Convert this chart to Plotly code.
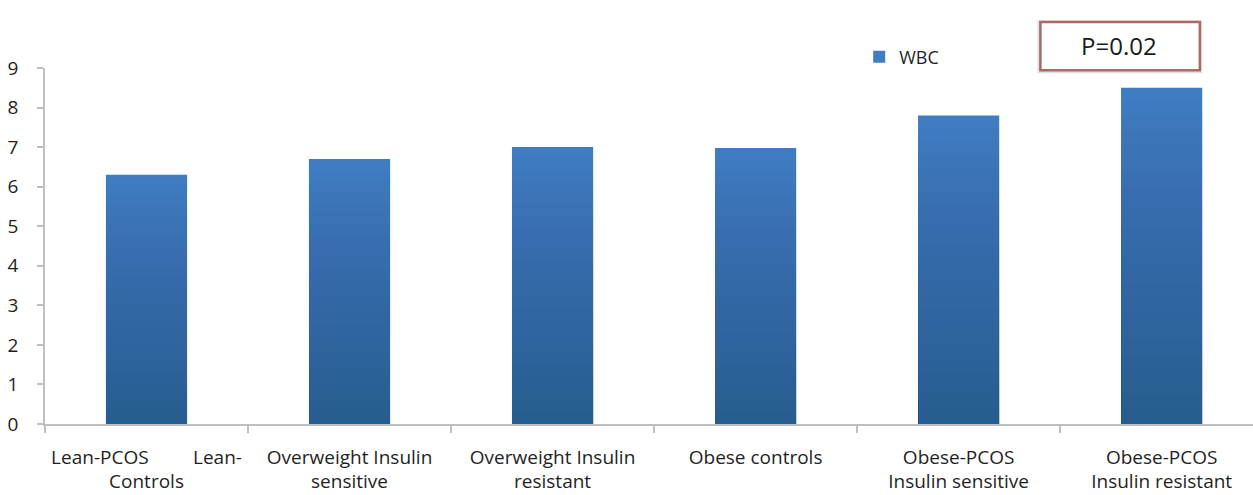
import plotly.graph_objects as go

categories = [
    "Lean-PCOS\u00a0\u00a0\u00a0\u00a0\u00a0\u00a0\u00a0\u00a0\u00a0Lean-<br>Controls",
    "Overweight Insulin<br>sensitive",
    "Overweight Insulin<br>resistant",
    "Obese controls",
    "Obese-PCOS<br>Insulin sensitive",
    "Obese-PCOS<br>Insulin resistant",
]
wbc = [6.3, 6.7, 7.0, 6.98, 7.8, 8.5]
y_ticks = [0, 1, 2, 3, 4, 5, 6, 7, 8, 9]

FONT = "Open Sans"
TEXT = "#1f1f1f"
fig = go.Figure()

# base bar in the lighter blue (the legend entry)
fig.add_trace(go.Bar(
    x=categories, y=wbc, name="WBC", width=0.4,
    marker=dict(color="#3f7cc2", line=dict(width=0)),
))

# vertical shading: stacked translucent overlays darken toward the base
steps = 24
for i in range(1, steps + 1):
    frac = i / steps
    fig.add_trace(go.Bar(
        x=categories, y=[v * (1 - frac) for v in wbc], width=0.4,
        marker=dict(color="rgba(30,60,110,0.027)", line=dict(width=0)),
        showlegend=False, hoverinfo="skip",
    ))

fig.update_layout(
    barmode="overlay",
    width=1253, height=495,
    margin=dict(l=45, r=0, t=68, b=71),
    paper_bgcolor="white", plot_bgcolor="white",
    font=dict(family=FONT, size=19, color=TEXT),
    legend=dict(
        x=0.674, y=1.031, xanchor="left", yanchor="middle",
        font=dict(family=FONT, size=18, color=TEXT),
        bgcolor="rgba(0,0,0,0)", itemwidth=30,
    ),
    bargap=0.6,
)

fig.update_xaxes(
    range=[-0.5, 5.45],
    showline=True, linecolor="#bfbfbf", linewidth=1.5,
    ticks="outside", ticklen=7, tickcolor="#bfbfbf", tickwidth=1.5,
    tickson="boundaries", showgrid=False, automargin=False,
    tickfont=dict(family=FONT, size=19, color=TEXT),
    ticklabelstandoff=15,
)

fig.update_yaxes(
    range=[0, 9], tickvals=y_ticks,
    showline=True, linecolor="#bfbfbf", linewidth=1.5,
    ticks="outside", ticklen=6, tickcolor="#bfbfbf", tickwidth=1.5,
    showgrid=False, zeroline=False, automargin=False,
    tickfont=dict(family=FONT, size=19, color=TEXT),
    ticklabelstandoff=15,
)

# p-value box with a soft drop shadow
fig.add_shape(type="rect", xref="paper", yref="paper",
              x0=0.8215, x1=0.958, y0=0.985, y1=1.134,
              line=dict(width=0), fillcolor="rgba(170,170,170,0.35)")
fig.add_shape(type="rect", xref="paper", yref="paper",
              x0=0.824, x1=0.956, y0=0.994, y1=1.129,
              line=dict(color="#a86a6a", width=2.5), fillcolor="white")
fig.add_annotation(xref="paper", yref="paper", x=0.889, y=1.063,
                   xanchor="center", yanchor="middle",
                   text="P=0.02", showarrow=False,
                   font=dict(family=FONT, size=24, color="#1a1a1a"))

fig.write_html("out.html")
